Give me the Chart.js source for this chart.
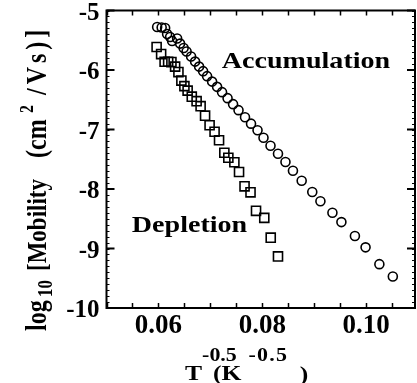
<!DOCTYPE html>
<html>
<head>
<meta charset="utf-8">
<script src="https://cdn.jsdelivr.net/npm/chart.js@4.4.1/dist/chart.umd.min.js"></script>
<style>
  html, body { margin: 0; padding: 0; background: #fff; }
  #wrap { width: 417px; height: 383px; }
</style>
</head>
<body>
<div id="wrap"><canvas id="chart" width="417" height="383"></canvas></div>
<script>
// Accumulation (circles)
const accX = [0.05975, 0.06062, 0.06129, 0.06167, 0.06225, 0.06263, 0.06360, 0.06417, 0.06485, 0.06542,
              0.06629, 0.06706, 0.06783, 0.06860, 0.06937, 0.07033, 0.07129, 0.07225, 0.07331, 0.07437,
              0.07542, 0.07667, 0.07783, 0.07908, 0.08023, 0.08158, 0.08302, 0.08446, 0.08590, 0.08758,
              0.08962, 0.09119, 0.09350, 0.09523, 0.09783, 0.09988, 0.10254, 0.10513];
const accY = [-5.278, -5.286, -5.295, -5.396, -5.446, -5.513, -5.471, -5.556, -5.631, -5.690,
              -5.774, -5.859, -5.943, -6.019, -6.103, -6.195, -6.283, -6.372, -6.473, -6.574,
              -6.675, -6.793, -6.902, -7.012, -7.138, -7.273, -7.407, -7.545, -7.694, -7.862,
              -8.051, -8.207, -8.398, -8.556, -8.791, -8.981, -9.263, -9.470];

// Depletion (squares)
const depX = [0.05965, 0.06052, 0.06119, 0.06187, 0.06250, 0.06321, 0.06385, 0.06442, 0.06500, 0.06562,
              0.06642, 0.06735, 0.06812, 0.06898, 0.06985, 0.07081, 0.07167, 0.07269, 0.07346, 0.07462,
              0.07552, 0.07658, 0.07773, 0.07879, 0.08038, 0.08162, 0.08302];
const depY = [-5.614, -5.732, -5.862, -5.862, -5.867, -5.943, -6.035, -6.178, -6.271, -6.347,
              -6.448, -6.524, -6.608, -6.768, -6.928, -7.037, -7.180, -7.391, -7.475, -7.551,
              -7.714, -7.955, -8.056, -8.367, -8.485, -8.818, -9.133];

const xTicks = [0.06, 0.08, 0.10];
const xTickLabels = ['0.06', '0.08', '0.10'];
const yTicks = [-10, -9, -8, -7, -6, -5];
const yTickLabels = ['-10', '-9', '-8', '-7', '-6', '-5'];

const FONT = '"Liberation Serif", "Times New Roman", serif';
const STRETCH = 1.22;

function toPoints(xs, ys) {
  return xs.map((x, i) => ({x: x, y: ys[i]}));
}

function noPad(s) {
  s.paddingLeft = 0; s.paddingRight = 0; s.paddingTop = 0; s.paddingBottom = 0;
}

// text piece: [text, size, along, across, letterSpacing]
function drawPieces(ctx, pieces) {
  pieces.forEach(p => {
    ctx.font = 'bold ' + p[1] + 'px ' + FONT;
    ctx.letterSpacing = (p[4] || 0) + 'px';
    ctx.fillText(p[0], p[2], p[3]);
  });
  ctx.letterSpacing = '0px';
}

const framePlugin = {
  id: 'frame',
  afterDatasetsDraw(chart) {
    const ctx = chart.ctx;
    const a = chart.chartArea;
    const xs = chart.scales.x, ys = chart.scales.y;
    ctx.save();
    ctx.strokeStyle = '#000';
    ctx.fillStyle = '#000';

    // frame
    ctx.lineWidth = 2;
    ctx.strokeRect(a.left, a.top, a.right - a.left, a.bottom - a.top);

    // inward ticks on x (bottom and top)
    ctx.lineWidth = 1.5;
    ctx.beginPath();
    for (let k = 0; 0.05 + k * 0.005 <= xs.max + 1e-9; k++) {
      const px = Math.round(xs.getPixelForValue(0.05 + k * 0.005)) + 0.5;
      ctx.moveTo(px, a.bottom); ctx.lineTo(px, a.bottom - 5);
      ctx.moveTo(px, a.top); ctx.lineTo(px, a.top + 5);
    }
    ctx.stroke();

    // inward ticks on y (left and right)
    ctx.lineWidth = 1;
    ctx.beginPath();
    for (let k = 0; k <= 50; k++) {
      const py = Math.round(ys.getPixelForValue(-10 + k * 0.1)) + 0.5;
      ctx.moveTo(a.left, py); ctx.lineTo(a.left + 3, py);
      ctx.moveTo(a.right, py); ctx.lineTo(a.right - 3, py);
    }
    ctx.stroke();
    ctx.lineWidth = 2;
    ctx.beginPath();
    yTicks.forEach(v => {
      const py = ys.getPixelForValue(v);
      ctx.moveTo(a.left, py); ctx.lineTo(a.left + 8, py);
      ctx.moveTo(a.right, py); ctx.lineTo(a.right - 8, py);
    });
    ctx.stroke();

    // annotations
    ctx.textBaseline = 'alphabetic';
    ctx.textAlign = 'left';
    [['Accumulation', 0.0722, -5.973], ['Depletion', 0.05488, -8.724]].forEach(t => {
      ctx.save();
      ctx.translate(xs.getPixelForValue(t[1]), ys.getPixelForValue(t[2]));
      ctx.scale(STRETCH, 1);
      ctx.font = 'bold 23px ' + FONT;
      ctx.fillText(t[0], 0, 0);
      ctx.restore();
    });

    // x axis title, baseline at y=380
    ctx.save();
    ctx.translate(185, 380);
    ctx.scale(STRETCH, 1);
    drawPieces(ctx, [
      ['T', 21, 0, 0],
      ['-0.5', 18, 14, -19],
      ['(K', 21, 23, 0],
      ['-0.5', 18, 52, -19, 1],
      [')', 21, 94, 1]
    ]);
    ctx.restore();

    // y axis title (rotated), baseline at x=46, text starts at y=331
    ctx.save();
    ctx.translate(46, 331);
    ctx.rotate(-Math.PI / 2);
    ctx.scale(1, STRETCH);
    drawPieces(ctx, [
      ['log', 24, 0, 0],
      ['10', 17, 34, 5],
      ['[Mobility', 23, 60, 0],
      ['(cm', 24, 173, 0],
      ['2', 16, 218, -11],
      ['/Vs)]', 24, 236, 0, 4]
    ]);
    ctx.restore();

    ctx.restore();
  }
};

new Chart(document.getElementById('chart'), {
  type: 'scatter',
  data: {
    datasets: [{
      label: 'Accumulation',
      data: toPoints(accX, accY),
      pointStyle: 'circle',
      pointRadius: 4.5,
      pointBorderWidth: 1.6,
      pointBorderColor: '#000',
      pointBackgroundColor: 'rgba(0,0,0,0)'
    }, {
      label: 'Depletion',
      data: toPoints(depX, depY),
      pointStyle: 'rect',
      pointRadius: 6.4,
      pointBorderWidth: 1.6,
      pointBorderColor: '#000',
      pointBackgroundColor: 'rgba(0,0,0,0)'
    }]
  },
  options: {
    responsive: false,
    devicePixelRatio: 1,
    animation: false,
    layout: {autoPadding: false, padding: {left: 0, right: 2, top: 10.5, bottom: 0}},
    plugins: {legend: {display: false}, tooltip: {enabled: false}},
    scales: {
      x: {
        type: 'linear',
        min: 0.05,
        max: 0.1094,
        grid: {display: false, drawTicks: false},
        border: {display: false},
        afterBuildTicks: s => { s.ticks = xTicks.map(v => ({value: v})); },
        afterFit: s => { s.height = 75; noPad(s); },
        ticks: {
          color: '#000',
          padding: 2,
          font: {family: FONT, size: 27, weight: 'bold'},
          callback: (v) => xTickLabels[xTicks.findIndex(t => Math.abs(t - v) < 1e-9)]
        }
      },
      y: {
        type: 'linear',
        min: -10,
        max: -5,
        grid: {display: false, drawTicks: false},
        border: {display: false},
        afterBuildTicks: s => { s.ticks = yTicks.map(v => ({value: v})); },
        afterFit: s => { s.width = 106.5; noPad(s); },
        ticks: {
          color: '#000',
          padding: 7,
          labelOffset: 3,
          font: {family: FONT, size: 25, weight: 'bold'},
          callback: (v) => yTickLabels[yTicks.indexOf(v)]
        }
      }
    }
  },
  plugins: [framePlugin]
});
</script>
</body>
</html>
